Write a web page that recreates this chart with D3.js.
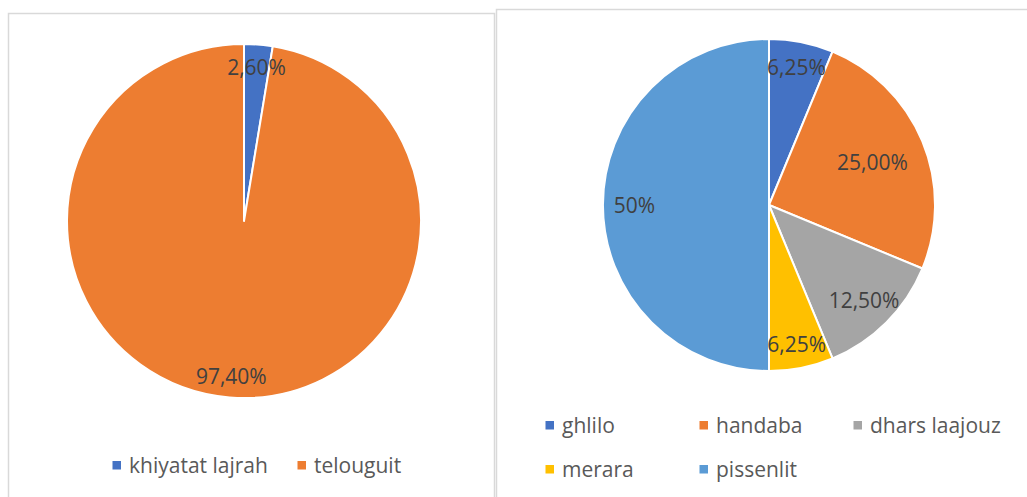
<!DOCTYPE html>
<html>
<head>
<meta charset="utf-8">
<script src="https://cdn.jsdelivr.net/npm/d3@7"></script>
<style>
  html, body { margin: 0; padding: 0; background: #ffffff; }
  svg { display: block; font-family: "Open Sans", "Noto Sans", sans-serif; }
</style>
</head>
<body>
<svg id="chart" width="1027" height="497"></svg>
<script>
// Left chart: two plants
const leftCategories = ["khiyatat lajrah", "telouguit"];
const leftValues = [2.6, 97.4];
const leftLabels = ["2,60%", "97,40%"];

// Right chart: five plants
const rightCategories = ["ghlilo", "handaba", "dhars laajouz", "merara", "pissenlit"];
const rightValues = [6.25, 25, 12.5, 6.25, 50];
const rightLabels = ["6,25%", "25,00%", "12,50%", "6,25%", "50%"];

// Office palette
const leftColors = ["#4472C4", "#ED7D31"];
const rightColors = ["#4472C4", "#ED7D31", "#A5A5A5", "#FFC000", "#5B9BD5"];

// Label distance from the centre, as a share of the radius
const leftLabelRadius = [0.87, 0.88];
const rightLabelRadius = [0.845, 0.675, 0.81, 0.855, 0.81];

const svg = d3.select("#chart");

// Panel frames
svg.append("rect").attr("x", 8.5).attr("y", 13.5).attr("width", 486).attr("height", 500)
  .attr("fill", "#ffffff").attr("stroke", "#D9D9D9").attr("stroke-width", 1.5);
svg.append("rect").attr("x", 496.5).attr("y", 9.5).attr("width", 540).attr("height", 500)
  .attr("fill", "#ffffff").attr("stroke", "#D9D9D9").attr("stroke-width", 1.5);

function drawPie(cfg) {
  const g = svg.append("g").attr("transform", `translate(${cfg.cx},${cfg.cy})`);
  const pie = d3.pie().sort(null).value(d => d)(cfg.values);
  const arc = d3.arc().innerRadius(0).outerRadius(cfg.r);
  const color = d3.scaleOrdinal().domain(d3.range(cfg.values.length)).range(cfg.colors);

  g.selectAll("path.slice").data(pie).join("path")
    .attr("class", "slice")
    .attr("d", arc)
    .attr("fill", (d, i) => color(i))
    .attr("stroke", "#ffffff")
    .attr("stroke-width", 2)
    .attr("stroke-linejoin", "round");

  g.selectAll("text.lbl").data(pie).join("text")
    .attr("class", "lbl")
    .attr("x", (d, i) => Math.sin((d.startAngle + d.endAngle) / 2) * cfg.r * cfg.labelRadius[i])
    .attr("y", (d, i) => -Math.cos((d.startAngle + d.endAngle) / 2) * cfg.r * cfg.labelRadius[i])
    .attr("dy", "0.36em")
    .attr("text-anchor", "middle")
    .attr("font-size", 21)
    .attr("fill", "#404040")
    .text((d, i) => cfg.labels[i]);
}

drawPie({ cx: 244, cy: 221, r: 177, values: leftValues, labels: leftLabels,
          colors: leftColors, labelRadius: leftLabelRadius });
drawPie({ cx: 769, cy: 205, r: 166, values: rightValues, labels: rightLabels,
          colors: rightColors, labelRadius: rightLabelRadius });

// Legends
function drawLegend(items, colors, positions) {
  const lg = svg.append("g");
  const it = lg.selectAll("g").data(items).join("g")
    .attr("transform", (d, i) => `translate(${positions[i][0]},${positions[i][1]})`);
  it.append("rect").attr("x", 0).attr("y", -12).attr("width", 8.5).attr("height", 8.5)
    .attr("fill", (d, i) => colors[i]);
  it.append("text").attr("x", 16.5).attr("y", 0)
    .attr("font-size", 21).attr("fill", "#595959").text(d => d);
}

drawLegend(leftCategories, leftColors, [[112.5, 473], [297.5, 473]]);
drawLegend(rightCategories, rightColors,
  [[545.5, 433], [699.5, 433], [853.5, 433], [545.5, 477], [699.5, 477]]);
</script>
</body>
</html>
